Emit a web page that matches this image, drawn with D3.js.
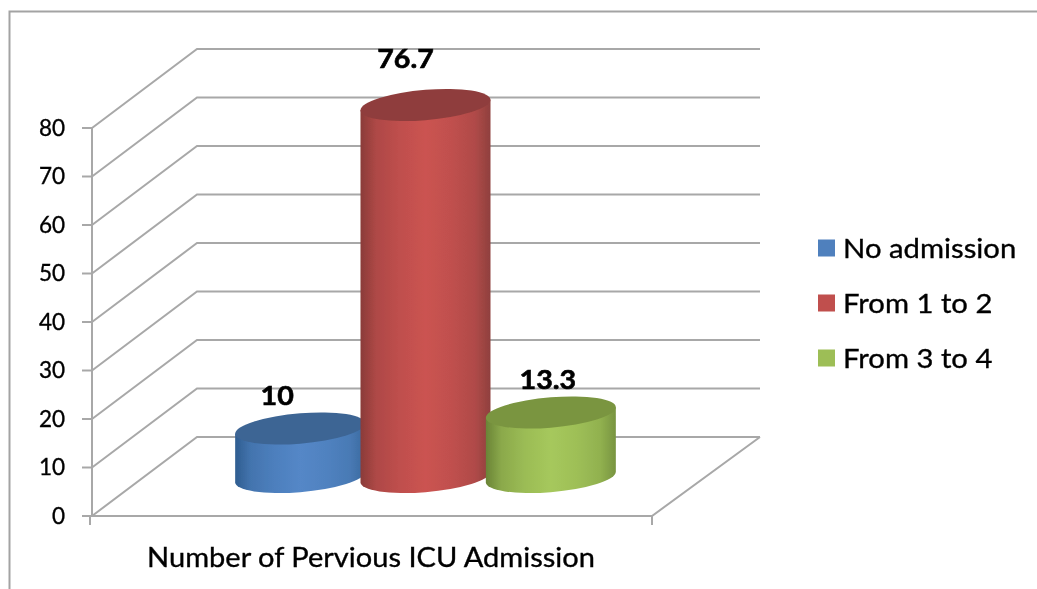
<!DOCTYPE html>
<html>
<head>
<meta charset="utf-8">
<script src="https://cdn.jsdelivr.net/npm/d3@7"></script>
<style>
html,body{margin:0;padding:0;background:#fff;overflow:hidden}
text{font-family:Lato,"Open Sans",sans-serif;fill:#000;stroke:#000;stroke-width:0.35px}
</style>
</head>
<body>
<svg id="chart" width="1037" height="589"></svg>
<script>
const categories = ["No admission", "From 1 to 2", "From 3 to 4"];
const values = [10, 76.7, 13.3];
const valueLabels = ["10", "76.7", "13.3"];
const yTicks = [0, 10, 20, 30, 40, 50, 60, 70, 80];
const axisTitle = ["Number of Pervious ICU Admission"];
const baseColors = ["#5487c7", "#cb5351", "#a6c85c"];
const edgeColors = ["#2f5d90", "#8a3b39", "#6a8437"];
const rightColors = ["#3b6a9f", "#8f403e", "#789440"];
const topColors = ["#3d6594", "#8f3e3c", "#7a9540"];

const svg = d3.select("#chart");
const defs = svg.append("defs");
defs.append("filter").attr("id", "soft").attr("x", "-5%").attr("y", "-5%").attr("width", "110%").attr("height", "110%")
  .append("feGaussianBlur").attr("stdDeviation", 0.6);

const W = 1037, H = 589;
const root = svg.append("g").attr("filter", "url(#soft)");
const GRID = "#a8a8a8";
const STRETCH = 1.06;

root.append("path").attr("d", `M9.5,${H} V11.5 H${W}`)
  .attr("fill", "none").attr("stroke", "#a3a3a3").attr("stroke-width", 2);

const y = d3.scaleLinear().domain([0, 80]).range([516, 128]);
const frontLeft = 92, frontRight = 652;
const depthX = 105, depthY = -79;
const x = d3.scaleBand().domain(categories).range([237.5, 613.5]);
const baseY = 477;
const rx = 65, ry = 15.2, shear = 0.08;

const grid = root.append("g").attr("fill", "none").attr("stroke", GRID).attr("stroke-width", 2);
grid.selectAll("path.g").data(yTicks).join("path").attr("class", "g")
  .attr("d", d => `M${frontLeft},${y(d)} L${frontLeft + depthX},${y(d) + depthY} H${frontRight + depthX + 3}`);
grid.append("path").attr("d", `M${frontLeft},${y(0)} H${frontRight} L${frontRight + depthX + 3},${y(0) + depthY}`);
grid.append("line").attr("x1", frontLeft).attr("x2", frontLeft).attr("y1", y(80)).attr("y2", y(0) + 1);
grid.selectAll("line.t").data(yTicks).join("line").attr("class", "t")
  .attr("x1", frontLeft - 10).attr("x2", frontLeft).attr("y1", d => y(d)).attr("y2", d => y(d));
grid.selectAll("line.c").data([frontLeft - 2, frontRight]).join("line").attr("class", "c")
  .attr("x1", d => d).attr("x2", d => d).attr("y1", y(0)).attr("y2", y(0) + 9);

root.append("g").selectAll("text").data(yTicks).join("text")
  .attr("x", 65).attr("y", d => y(d)).attr("dy", "0.35em").attr("text-anchor", "end")
  .attr("font-size", 22.5).text(d => d);

categories.forEach((c, i) => {
  const g = defs.append("linearGradient").attr("id", "cyl" + i);
  const mixL = d3.interpolateRgb(edgeColors[i], baseColors[i]);
  const mixR = d3.interpolateRgb(rightColors[i], baseColors[i]);
  [[0, edgeColors[i]], [0.12, mixL(0.55)], [0.3, mixL(0.82)], [0.5, baseColors[i]],
   [0.7, mixR(0.82)], [0.88, mixR(0.55)], [1, rightColors[i]]].forEach(([o, col]) =>
    g.append("stop").attr("offset", o).attr("stop-color", col));
});

const bars = root.append("g").selectAll("g").data(categories).join("g")
  .attr("transform", d => `matrix(1,${-shear},0,1,${x(d) + x.bandwidth() / 2},${baseY})`);
const heightOf = i => y(0) - y(values[i]);
bars.append("path")
  .attr("d", (d, i) => `M${-rx},${-heightOf(i)} V0 A${rx},${ry} 0 0 0 ${rx},0 V${-heightOf(i)} Z`)
  .attr("fill", (d, i) => `url(#cyl${i})`);
bars.append("ellipse").attr("rx", rx).attr("ry", ry)
  .attr("cy", (d, i) => -heightOf(i))
  .attr("fill", (d, i) => topColors[i]);

const labelDX = [-23, -20, -3], labelDY = [-33, -46, -33];
root.append("g").selectAll("text").data(categories).join("text")
  .attr("transform", (d, i) => `translate(${x(d) + x.bandwidth() / 2 + labelDX[i]},${baseY - heightOf(i) + labelDY[i]}) scale(${STRETCH},1)`)
  .attr("dy", "0.35em").attr("text-anchor", "middle")
  .attr("font-size", 27).attr("font-weight", 700)
  .style("stroke-width", "0.6px")
  .text((d, i) => valueLabels[i]);

root.append("text").data(axisTitle)
  .attr("transform", `translate(371,557) scale(${STRETCH},1)`).attr("dy", "0.35em")
  .attr("text-anchor", "middle").attr("font-size", 27.4).text(d => d);

const legendY = d3.scalePoint().domain(categories).range([248, 358]);
const legend = root.append("g").selectAll("g").data(categories).join("g")
  .attr("transform", d => `translate(818,${legendY(d)})`);
legend.append("rect").attr("y", -8.5).attr("width", 17).attr("height", 17)
  .attr("fill", (d, i) => d3.color(baseColors[i]).darker(0.15));
legend.append("text").attr("transform", `translate(25,0) scale(${STRETCH},1)`).attr("dy", "0.35em")
  .attr("font-size", 27.6).text(d => d);
</script>
</body>
</html>
